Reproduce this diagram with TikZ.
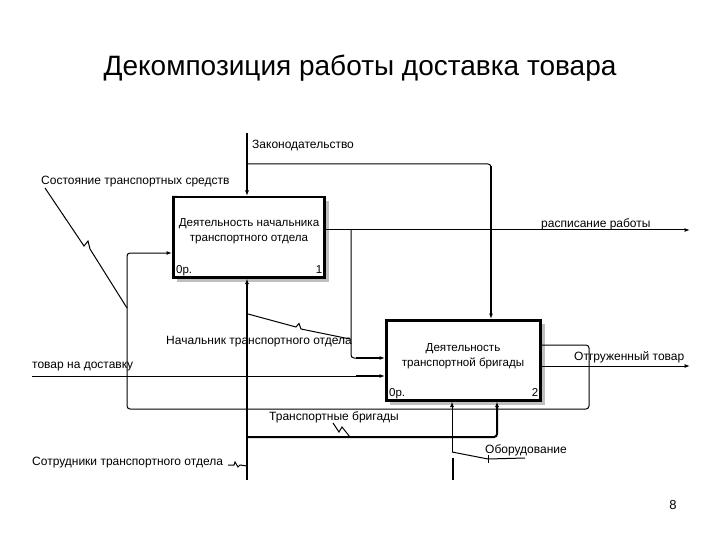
\documentclass[tikz,border=0pt]{standalone}
\usepackage{fontspec}
\setmainfont{Liberation Sans}
\usetikzlibrary{arrows.meta,calc}
\begin{document}
\begin{tikzpicture}[x=1pt,y=-1pt,
  tip/.tip={Latex[length=5.5pt,width=4pt]},
  thinl/.style={line width=1pt},
  thickl/.style={line width=2pt},
  box/.style={draw,line width=2.5pt,fill=white,minimum width=151pt,minimum height=80pt,anchor=north west,inner sep=0pt},
  shade/.style={fill=gray!50},
  lbl/.style={font=\fontsize{12}{13}\selectfont,inner sep=0pt,anchor=west},
  btxt/.style={font=\fontsize{11.6}{15}\selectfont,align=center,inner sep=0pt},
  corner/.style={font=\fontsize{11.5}{12}\selectfont,inner sep=0pt}
]
\useasboundingbox (0,0) rectangle (720,540);
\fill[white] (0,0) rectangle (720,540);

% title
\node[font=\fontsize{28}{32}\selectfont] (title) at (360,68) {Декомпозиция работы доставка товара};
\node[font=\fontsize{13}{15}\selectfont] (pg) at (673,505) {8};

% shadows
\fill[shade] (177,201) rectangle (329,282);
\fill[shade] (390,324) rectangle (545,405);

% boxes
\node[box] (b1) at (172,196) {};
\node[box,minimum width=154pt] (b2) at (385,319) {};
\fill (b1.north west) -- ++(5,0) -- ++(-5,5) -- cycle;
\fill (b2.north west) -- ++(5,0) -- ++(-5,5) -- cycle;
\node[btxt] (b1t) at (249,231) {Деятельность начальника\\транспортного отдела};
\node[btxt] (b2t) at (463,356) {Деятельность\\транспортной бригады};
\node[corner,anchor=base west] (b1c) at ($(b1.south west)+(4,-5)$) {0р.};
\node[corner,anchor=base east] (b1n) at ($(b1.south east)+(-3,-5)$) {1};
\node[corner,anchor=base west] (b2c) at ($(b2.south west)+(4,-5)$) {0р.};
\node[corner,anchor=base east] (b2n) at ($(b2.south east)+(-3,-5)$) {2};

% labels
\node[lbl] (lzak) at (252,146) {Законодательство};
\node[lbl] (lsost) at (41,182) {Состояние транспортных средств};
\node[lbl] (lrasp) at (541,224) {расписание работы};
\node[lbl] (lnach) at (166,342) {Начальник транспортного отдела};
\node[lbl] (ltov) at (32,367) {товар на доставку};
\node[lbl] (lotg) at (574,357) {Отгруженный товар};
\node[lbl] (ltrb) at (269,417) {Транспортные бригады};
\node[lbl] (lsotr) at (32,463) {Сотрудники транспортного отдела};
\node[lbl] (lobor) at (485,450) {Оборудование};

% coordinates
\coordinate (ztop) at (247,133);
\coordinate (zbr) at (247,164);
\coordinate (zc) at (491,164);
\coordinate (lpA) at (589,409);
\coordinate (lpB) at (127,253);
\coordinate (o1) at (690,230);
\coordinate (br1) at (351,230);
\coordinate (in1) at (32,376);
\coordinate (o2) at (690,366);
\coordinate (m1) at (247,480);
\coordinate (m2) at (247,437);
\coordinate (m3a) at (452,452);
\coordinate (m3b) at (453,480);

% control: Законодательство
\draw[thickl,-tip] (ztop) -- (ztop |- b1.north);
\draw[thinl,rounded corners=3] (zbr) -- (zc) -- ++(0,10);
\draw[thickl,-tip] ($(zc)+(0,2)$) -- (zc |- b2.north);

% feedback loop from box 2 to box 1
\draw[thinl,rounded corners=3,-tip] (b2.east |- 0,345) -| (lpA) -| (lpB) -- (lpB -| b1.west);

% box 1 output
\draw[thinl,-tip] (b1.east |- br1) -- (o1);
\draw[thinl,rounded corners=3,-tip] (br1) |- (b2.west |- 0,358);
\draw[thickl] (356,358) -- (380,358);

% input товар на доставку
\draw[thinl,-tip] (in1) -- (in1 -| b2.west);
\draw[thickl] (356,376) -- (380,376);

% output Отгруженный товар
\draw[thinl,-tip] (b2.east |- o2) -- (o2);

% mechanisms
\draw[thickl,-tip] (m1) -- (m1 |- b1.south);
\draw[thickl,rounded corners=3,-tip] (m2) -| ($(b2.south west)+(112,0)$);
\draw[thinl,-tip] (m3a) -- (m3a |- b2.south);
\draw[thickl] (m3b) -- (453,458);

% squiggles
\draw[thinl] (45,188) -- (84,246) -- (88,241) -- (90,249) -- (127,308);
\draw[thinl] (248,314) -- (296,327) -- (299,323.5) -- (301,329) -- (350,339);
\draw[thinl] (333,423) -- (339,432) -- (342,427) -- (350,437);
\draw[thinl] (228,465) -- (234,465) -- (235,462) -- (238,467) -- (240,465) -- (247,466);
\draw[thinl] (m3a) -- (488,459);
\draw[thinl] (488,455) -- (488,463);
\draw[thinl] (488,459) -- (525,458);
\end{tikzpicture}
\end{document}
